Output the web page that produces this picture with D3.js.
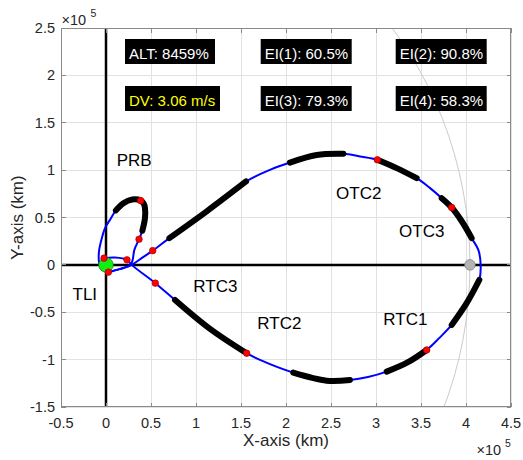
<!DOCTYPE html>
<html><head><meta charset="utf-8">
<script src="https://cdn.jsdelivr.net/npm/d3@7"></script>
<style>
body{margin:0;background:#fff;}
svg{display:block;font-family:"Liberation Sans",Arial,Helvetica,sans-serif;}
</style>
</head><body>
<svg id="chart" width="523" height="460"></svg>
<script>
// ---------- DATA (units of 1e5 km) ----------
const xTickValues = [-0.5, 0, 0.5, 1, 1.5, 2, 2.5, 3, 3.5, 4, 4.5];
const yTickValues = [-1.5, -1, -0.5, 0, 0.5, 1, 1.5, 2, 2.5];
const xTickLabels = ["-0.5","0","0.5","1","1.5","2","2.5","3","3.5","4","4.5"];
const yTickLabels = ["-1.5","-1","-0.5","0","0.5","1","1.5","2","2.5"];

// phasing loop (PRB)
const loopX = [0.026, 0.15, 0.27, 0.296, 0.315, 0.367, 0.404, 0.433, 0.433, 0.42, 0.385, 0.29, 0.193, 0.11, 0.044, -0.011, -0.056, -0.078, -0.078, -0.05, 0.026];
const loopY = [-0.077, -0.045, -0.005, 0.053, 0.158, 0.271, 0.36, 0.493, 0.599, 0.645, 0.68, 0.69, 0.651, 0.575, 0.475, 0.388, 0.246, 0.14, 0.035, -0.045, -0.077];
const loopThick = [[6, 13]];

// transfer + free return trajectory
const trajX = [0.026, 0.15, 0.285, 0.396, 0.519, 0.704, 1.119, 1.556, 1.822, 2.044, 2.341, 2.637, 2.822, 3.015, 3.23, 3.452, 3.595, 3.73, 3.841, 3.96, 4.063, 4.137, 4.163, 4.148, 4.007, 3.841, 3.705, 3.563, 3.35, 3.119, 2.911, 2.711, 2.452, 2.081, 1.711, 1.563, 1.156, 0.767, 0.548, 0.285, 0.233, 0.10, -0.022];
const trajY = [-0.077, -0.045, 0.0, 0.071, 0.15, 0.282, 0.565, 0.88, 1.003, 1.08, 1.16, 1.172, 1.144, 1.109, 1.021, 0.915, 0.815, 0.704, 0.605, 0.45, 0.282, 0.158, 0.0, -0.158, -0.404, -0.634, -0.77, -0.898, -1.03, -1.127, -1.183, -1.214, -1.222, -1.137, -1.003, -0.932, -0.675, -0.37, -0.193, 0.0, 0.053, 0.077, 0.071];
const trajThick = [[5, 7], [9, 11], [13, 15], [17, 20], [23, 25], [27, 29], [31, 33], [35, 37]];

// manoeuvre points
const eventX = [-0.022, 0.026, 0.233, 0.367, 0.519, 0.385, 0.548, 1.563, 3.563, 3.015, 3.841];
const eventY = [0.071, -0.077, 0.053, 0.271, 0.15, 0.678, -0.193, -0.932, -0.898, 1.109, 0.605];

const earthPos = [0, 0];
const moonPos = [4.044, 0];
const moonOrbitRadius = 4.044;

const phaseNames = ["PRB", "OTC2", "OTC3", "RTC3", "RTC2", "RTC1", "TLI"];
const phaseX = [0.119, 2.556, 3.256, 0.970, 1.681, 3.081, -0.372];
const phaseY = [1.048, 0.693, 0.299, -0.282, -0.675, -0.633, -0.369];

const infoTexts = ["ALT: 8459%", "EI(1): 60.5%", "EI(2): 90.8%", "DV: 3.06 m/s", "EI(3): 79.3%", "EI(4): 58.3%"];

// ---------- LAYOUT ----------
const W = 523, H = 460;
const L = 61, R = 511, T = 28, B = 407;
const svg = d3.select("#chart");
const x = d3.scaleLinear().domain([-0.5, 4.5]).range([L, R]);
const y = d3.scaleLinear().domain([-1.5, 2.5]).range([B, T]);
const axisColor = "#8a8a8a";
const textColor = "#262626";

svg.append("defs").append("clipPath").attr("id", "clip")
  .append("rect").attr("x", L).attr("y", T).attr("width", R - L).attr("height", B - T);

// grid
const grid = svg.append("g");
grid.selectAll("line.gx").data(xTickValues).join("line")
  .attr("x1", d => x(d)).attr("x2", d => x(d)).attr("y1", T).attr("y2", B)
  .attr("stroke", "#e2e2e2").attr("stroke-width", 1).attr("shape-rendering", "crispEdges");
grid.selectAll("line.gy").data(yTickValues).join("line")
  .attr("y1", d => y(d)).attr("y2", d => y(d)).attr("x1", L).attr("x2", R)
  .attr("stroke", "#e2e2e2").attr("stroke-width", 1).attr("shape-rendering", "crispEdges");

const plot = svg.append("g").attr("clip-path", "url(#clip)");

// moon orbit
plot.append("ellipse")
  .attr("cx", x(0)).attr("cy", y(0))
  .attr("rx", x(moonOrbitRadius) - x(0)).attr("ry", y(0) - y(moonOrbitRadius))
  .attr("fill", "none").attr("stroke", "#c4c4c4").attr("stroke-width", 0.9);

// axes through origin
plot.append("line").attr("x1", x(0)).attr("x2", x(0)).attr("y1", T).attr("y2", B)
  .attr("stroke", "#000").attr("stroke-width", 2.5);
plot.append("line").attr("x1", L).attr("x2", R).attr("y1", y(0)).attr("y2", y(0))
  .attr("stroke", "#000").attr("stroke-width", 2.5);

// trajectories
const lineGen = d3.line().x(d => x(d[0])).y(d => y(d[1])).curve(d3.curveCatmullRom.alpha(0.5));
const loopPts = loopX.map((v, i) => [v, loopY[i]]);
const trajPts = trajX.map((v, i) => [v, trajY[i]]);

plot.append("path").attr("d", lineGen(loopPts)).attr("fill", "none").attr("stroke", "#0000ff").attr("stroke-width", 2);
plot.append("path").attr("d", lineGen(trajPts)).attr("fill", "none").attr("stroke", "#0000ff").attr("stroke-width", 2);

const thickSegs = loopThick.map(r => loopPts.slice(r[0], r[1] + 1))
  .concat(trajThick.map(r => trajPts.slice(r[0], r[1] + 1)));
plot.selectAll("path.thick").data(thickSegs).join("path")
  .attr("class", "thick").attr("d", d => lineGen(d))
  .attr("fill", "none").attr("stroke", "#000").attr("stroke-width", 6).attr("stroke-linecap", "round");

// earth
plot.append("circle").attr("cx", x(earthPos[0])).attr("cy", y(earthPos[1])).attr("r", 7.3)
  .attr("fill", "#11ee11").attr("stroke", "#0a8a0a").attr("stroke-width", 0.7);

// events
plot.selectAll("circle.ev").data(eventX.map((v, i) => [v, eventY[i]])).join("circle")
  .attr("class", "ev").attr("cx", d => x(d[0])).attr("cy", d => y(d[1])).attr("r", 3.3)
  .attr("fill", "#ff0000").attr("stroke", "#9a0000").attr("stroke-width", 0.6);

// moon
plot.append("circle").attr("cx", x(moonPos[0])).attr("cy", y(moonPos[1])).attr("r", 5.3)
  .attr("fill", "#b4b4b4").attr("stroke", "#7a7a7a").attr("stroke-width", 0.7);

// frame
svg.append("rect").attr("x", L + 0.5).attr("y", T + 0.5).attr("width", R - L - 1).attr("height", B - T - 1)
  .attr("fill", "none").attr("stroke", axisColor).attr("stroke-width", 1);

// ticks (inward, all sides)
const tk = 4.5;
const ticks = svg.append("g").attr("stroke", axisColor).attr("stroke-width", 1).attr("shape-rendering", "crispEdges");
xTickValues.forEach(v => {
  ticks.append("line").attr("x1", x(v)).attr("x2", x(v)).attr("y1", B).attr("y2", B - tk);
  ticks.append("line").attr("x1", x(v)).attr("x2", x(v)).attr("y1", T).attr("y2", T + tk);
});
yTickValues.forEach(v => {
  ticks.append("line").attr("y1", y(v)).attr("y2", y(v)).attr("x1", L).attr("x2", L + tk);
  ticks.append("line").attr("y1", y(v)).attr("y2", y(v)).attr("x1", R).attr("x2", R - tk);
});

// tick labels
svg.selectAll("text.xt").data(xTickValues).join("text")
  .attr("x", d => x(d)).attr("y", 428).attr("text-anchor", "middle")
  .attr("font-size", "14.5px").attr("fill", textColor).text((d, i) => xTickLabels[i]);
svg.selectAll("text.yt").data(yTickValues).join("text")
  .attr("x", 55).attr("y", d => y(d) + 5).attr("text-anchor", "end")
  .attr("font-size", "14.5px").attr("fill", textColor).text((d, i) => yTickLabels[i]);

// exponent labels
svg.append("text").attr("x", 61.5).attr("y", 25).attr("font-size", "14.5px").attr("fill", textColor).text("\u00d710");
svg.append("text").attr("x", 90.5).attr("y", 16.5).attr("font-size", "10.5px").attr("fill", textColor).text("5");
svg.append("text").attr("x", 476.5).attr("y", 455).attr("font-size", "14.5px").attr("fill", textColor).text("\u00d710");
svg.append("text").attr("x", 505).attr("y", 446.5).attr("font-size", "10.5px").attr("fill", textColor).text("5");

// axis titles
svg.append("text").attr("x", (L + R) / 2).attr("y", 446).attr("text-anchor", "middle")
  .attr("font-size", "17px").attr("fill", textColor).text("X-axis (km)");
svg.append("text").attr("transform", "translate(23," + ((T + B) / 2) + ") rotate(-90)")
  .attr("text-anchor", "middle").attr("font-size", "17px").attr("fill", textColor).text("Y-axis (km)");

// phase labels
svg.selectAll("text.ph").data(phaseNames).join("text")
  .attr("x", (d, i) => x(phaseX[i])).attr("y", (d, i) => y(phaseY[i]))
  .attr("font-size", "17px").attr("fill", "#000").text(d => d);

// info boxes
const boxLeft = [125, 260.7, 395.7, 125, 260.7, 395.7];
const boxTop = [39, 39, 39, 86, 86, 86];
const boxW = [90, 91, 91, 95, 91, 91];
const boxColor = ["#fff", "#fff", "#fff", "#ffff00", "#fff", "#fff"];
const boxes = svg.selectAll("g.box").data(infoTexts).join("g").attr("class", "box");
boxes.append("rect").attr("x", (d, i) => boxLeft[i]).attr("y", (d, i) => boxTop[i])
  .attr("width", (d, i) => boxW[i]).attr("height", 25).attr("fill", "#000");
boxes.append("text").attr("x", (d, i) => boxLeft[i] + 4).attr("y", (d, i) => boxTop[i] + 19.5)
  .attr("font-size", "15px").attr("fill", (d, i) => boxColor[i]).text(d => d);
</script>
</body></html>
